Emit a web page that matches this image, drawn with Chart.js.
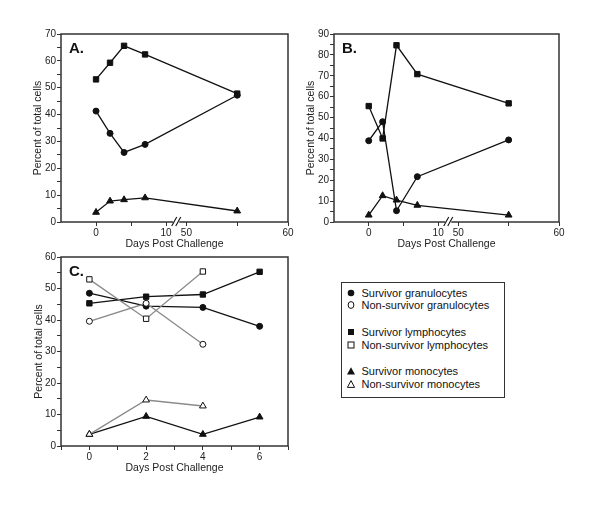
<!DOCTYPE html>
<html>
<head>
<meta charset="utf-8">
<title>Percent of total cells after challenge</title>
<script src="https://cdn.jsdelivr.net/npm/chart.js@4.4.1/dist/chart.umd.min.js"></script>
<style>
  html, body { margin: 0; padding: 0; background: #fff; }
  #wrap { position: relative; width: 600px; height: 509px; overflow: hidden; }
  #wrap canvas { position: absolute; left: 0; top: 0; }
  #legend {
    position: absolute; left: 341px; top: 282px; width: 164px; height: 116px;
    box-sizing: border-box; border: 1.5px solid #333; background: #fff;
    font-family: "Liberation Sans", Arial, sans-serif; font-size: 11px; color: #111;
  }
  #legend .row { position: absolute; left: 0; height: 14px; line-height: 14px; white-space: nowrap; }
  #legend svg { position: absolute; left: 3.5px; top: 2px; }
  #legend span { position: absolute; left: 19.5px; top: 0; }
</style>
</head>
<body>
<div id="wrap">
  <canvas id="chartA" width="600" height="509"></canvas>
  <canvas id="chartB" width="600" height="509"></canvas>
  <canvas id="chartC" width="600" height="509"></canvas>
  <div id="legend"></div>
</div>
<script>
// ---------------------- Data ----------------------
const daysAB = [0, 2, 4, 7, 55];
const daysC = [0, 2, 4, 6];
const daysCNon = [0, 2, 4];

// panel A (survivors)
const survGranA = [41.3, 33.0, 25.9, 28.9, 47.2];
const survLymA = [53.1, 59.3, 65.6, 62.4, 47.8];
const survMonoA = [3.6, 7.8, 8.3, 9.0, 4.1];

// panel B (survivors)
const survGranB = [38.9, 48.0, 5.4, 21.7, 39.3];
const survLymB = [55.5, 40.0, 84.6, 70.8, 56.8];
const survMonoB = [3.3, 12.6, 10.5, 8.0, 3.3];

// panel C (survivors vs non-survivors)
const survGranC = [48.5, 44.4, 44.0, 38.0];
const nonGranC = [39.6, 45.3, 32.3];
const survLymC = [45.3, 47.4, 48.1, 55.3];
const nonLymC = [52.9, 40.4, 55.4];
const survMonoC = [3.7, 9.4, 3.7, 9.2];
const nonMonoC = [3.7, 14.6, 12.7];

// tick values / labels
const xTicksAB = [0, 5, 10, 50, 55, 60];
const xLabelsAB = ["0", "", "10", "50", "", "60"];
const xTicksC = [-1, 0, 1, 2, 3, 4, 5, 6, 7];
const xLabelsC = ["", "0", "", "2", "", "4", "", "6", ""];
const yTicksA = [0, 5, 10, 15, 20, 25, 30, 35, 40, 45, 50, 55, 60, 65, 70];
const yTicksB = [0, 5, 10, 15, 20, 25, 30, 35, 40, 45, 50, 55, 60, 65, 70, 75, 80, 85, 90];
const yTicksC = [0, 5, 10, 15, 20, 25, 30, 35, 40, 45, 50, 55, 60];

const legendLabels = [
  "Survivor granulocytes", "Non-survivor granulocytes",
  "Survivor lymphocytes", "Non-survivor lymphocytes",
  "Survivor monocytes", "Non-survivor monocytes"
];

// ---------------------- Broken day axis ----------------------
// days 0-10 on the left part, 50-60 after the break, a bit wider
const BREAK_GAP = 2.9;
const FAR_SCALE = 1.45;
function dayToAxis(d) {
  return d <= 10 ? d : 10 + BREAK_GAP + (d - 50) * FAR_SCALE;
}

const FONT = '"Liberation Sans", Arial, Helvetica, sans-serif';
const INK = "#111";

function points(days, values, mapX) {
  return days.map((d, i) => ({ x: mapX ? mapX(d) : d, y: values[i] }));
}

function dataset(label, data, kind, filled) {
  const style = { gran: ["circle", 3], lym: ["rect", 3.8], mono: ["triangle", 3.9] }[kind];
  return {
    label,
    data,
    borderColor: filled ? INK : "#8a8a8a",
    borderWidth: 1.3,
    pointStyle: style[0],
    pointRadius: style[1],
    pointBorderWidth: 1,
    pointBorderColor: INK,
    pointBackgroundColor: filled ? INK : "#fff",
    tension: 0,
    fill: false
  };
}

// ---------------------- Frame, panel letter, axis break ----------------------
const panelDeco = {
  id: "panelDeco",
  beforeDatasetsDraw(chart, args, opts) {
    const { ctx, chartArea: a } = chart;
    ctx.save();
    ctx.strokeStyle = "#333";
    ctx.lineWidth = 1.5;
    ctx.strokeRect(a.left, a.top, a.right - a.left, a.bottom - a.top);

    if (opts.breakAt != null) {
      const x = chart.scales.x.getPixelForValue(opts.breakAt);
      ctx.fillStyle = "#fff";
      ctx.fillRect(x - 3, a.bottom - 1, 6, 2);
      ctx.lineWidth = 1.1;
      ctx.strokeStyle = INK;
      [-2, 2].forEach(dx => {
        ctx.beginPath();
        ctx.moveTo(x + dx - 2.5, a.bottom + 4);
        ctx.lineTo(x + dx + 2.5, a.bottom - 5);
        ctx.stroke();
      });
    }

    ctx.font = "bold 15px " + FONT;
    ctx.fillStyle = INK;
    ctx.textBaseline = "alphabetic";
    ctx.fillText(opts.label, a.left + 8, a.top + 19);
    ctx.restore();
  }
};

// ---------------------- Chart builder ----------------------
function buildPanel({ canvasId, label, datasets, pad, yWidth, yTitlePad, xMin, xMax, xTicks, xLabels, yMax, yTicks, breakAt }) {
  return new Chart(document.getElementById(canvasId), {
    type: "line",
    data: { datasets },
    plugins: [panelDeco],
    options: {
      responsive: false,
      animation: false,
      events: [],
      layout: { padding: pad, autoPadding: false },
      plugins: {
        legend: { display: false },
        tooltip: { enabled: false },
        panelDeco: { label, breakAt }
      },
      scales: {
        x: {
          type: "linear",
          min: xMin,
          max: xMax,
          afterBuildTicks: s => { s.ticks = xTicks.map(v => ({ value: v })); },
          afterFit: s => { s.height = 30; },
          ticks: {
            autoSkip: false, maxRotation: 0, padding: 1, color: "#222",
            font: { size: 10, family: FONT },
            callback: (v, i) => xLabels[i]
          },
          grid: { drawOnChartArea: false, drawTicks: true, tickLength: 4, color: "#333", lineWidth: 1 },
          border: { display: false },
          title: {
            display: true, text: "Days Post Challenge", color: "#222",
            font: { size: 10.5, family: FONT }, padding: { top: 0, bottom: 2 }
          }
        },
        y: {
          type: "linear",
          min: 0,
          max: yMax,
          afterBuildTicks: s => { s.ticks = yTicks.map(v => ({ value: v })); },
          afterFit: s => { s.width = yWidth; },
          ticks: {
            autoSkip: false, padding: 1, color: "#222",
            font: { size: 10, family: FONT },
            callback: v => (v % 10 === 0 ? String(v) : "")
          },
          grid: { drawOnChartArea: false, drawTicks: true, tickLength: 4, color: "#333", lineWidth: 1 },
          border: { display: false },
          title: {
            display: true, text: "Percent of total cells", color: "#222",
            font: { size: 10.5, family: FONT }, padding: { top: yTitlePad, bottom: 0 }
          }
        }
      }
    }
  });
}

// ---------------------- Panels ----------------------
buildPanel({
  canvasId: "chartA", label: "A.",
  datasets: [
    dataset("Survivor granulocytes", points(daysAB, survGranA, dayToAxis), "gran", true),
    dataset("Survivor lymphocytes", points(daysAB, survLymA, dayToAxis), "lym", true),
    dataset("Survivor monocytes", points(daysAB, survMonoA, dayToAxis), "mono", true)
  ],
  pad: { left: 26, top: 34, right: 312, bottom: 257 },
  yWidth: 35, yTitlePad: 6,
  xMin: -5, xMax: dayToAxis(60), xTicks: xTicksAB.map(dayToAxis), xLabels: xLabelsAB,
  yMax: 70, yTicks: yTicksA, breakAt: 10 + BREAK_GAP / 2
});

buildPanel({
  canvasId: "chartB", label: "B.",
  datasets: [
    dataset("Survivor granulocytes", points(daysAB, survGranB, dayToAxis), "gran", true),
    dataset("Survivor lymphocytes", points(daysAB, survLymB, dayToAxis), "lym", true),
    dataset("Survivor monocytes", points(daysAB, survMonoB, dayToAxis), "mono", true)
  ],
  pad: { left: 299, top: 34, right: 41, bottom: 257 },
  yWidth: 35, yTitlePad: 6,
  xMin: -5, xMax: dayToAxis(60), xTicks: xTicksAB.map(dayToAxis), xLabels: xLabelsAB,
  yMax: 90, yTicks: yTicksB, breakAt: 10 + BREAK_GAP / 2
});

buildPanel({
  canvasId: "chartC", label: "C.",
  datasets: [
    dataset("Non-survivor granulocytes", points(daysCNon, nonGranC), "gran", false),
    dataset("Non-survivor lymphocytes", points(daysCNon, nonLymC), "lym", false),
    dataset("Non-survivor monocytes", points(daysCNon, nonMonoC), "mono", false),
    dataset("Survivor granulocytes", points(daysC, survGranC), "gran", true),
    dataset("Survivor lymphocytes", points(daysC, survLymC), "lym", true),
    dataset("Survivor monocytes", points(daysC, survMonoC), "mono", true)
  ],
  pad: { left: 26, top: 257, right: 312, bottom: 33 },
  yWidth: 35, yTitlePad: 7,
  xMin: -1, xMax: 7, xTicks: xTicksC, xLabels: xLabelsC,
  yMax: 60, yTicks: yTicksC, breakAt: null
});

// ---------------------- Legend ----------------------
const legendIcons = [
  '<circle cx="5" cy="5" r="3.3" fill="#111"/>',
  '<ellipse cx="5" cy="5" rx="2.9" ry="3.4" fill="#fff" stroke="#111" stroke-width="1"/>',
  '<rect x="2" y="2" width="6" height="6" fill="#111"/>',
  '<rect x="2" y="2" width="6" height="6" fill="#fff" stroke="#111" stroke-width="1"/>',
  '<polygon points="5,1.2 9,8.6 1,8.6" fill="#111"/>',
  '<polygon points="5,1.6 8.6,8.4 1.4,8.4" fill="#fff" stroke="#111" stroke-width="1"/>'
];
const legendRowTops = [2.8, 14.5, 41.8, 54.5, 80.5, 93.8];

const legendEl = document.getElementById("legend");
legendLabels.forEach((text, i) => {
  const row = document.createElement("div");
  row.className = "row";
  row.style.top = legendRowTops[i] + "px";
  row.innerHTML = '<svg width="10" height="10" viewBox="0 0 10 10">' + legendIcons[i] + "</svg><span></span>";
  row.querySelector("span").textContent = text;
  legendEl.appendChild(row);
});
</script>
</body>
</html>
